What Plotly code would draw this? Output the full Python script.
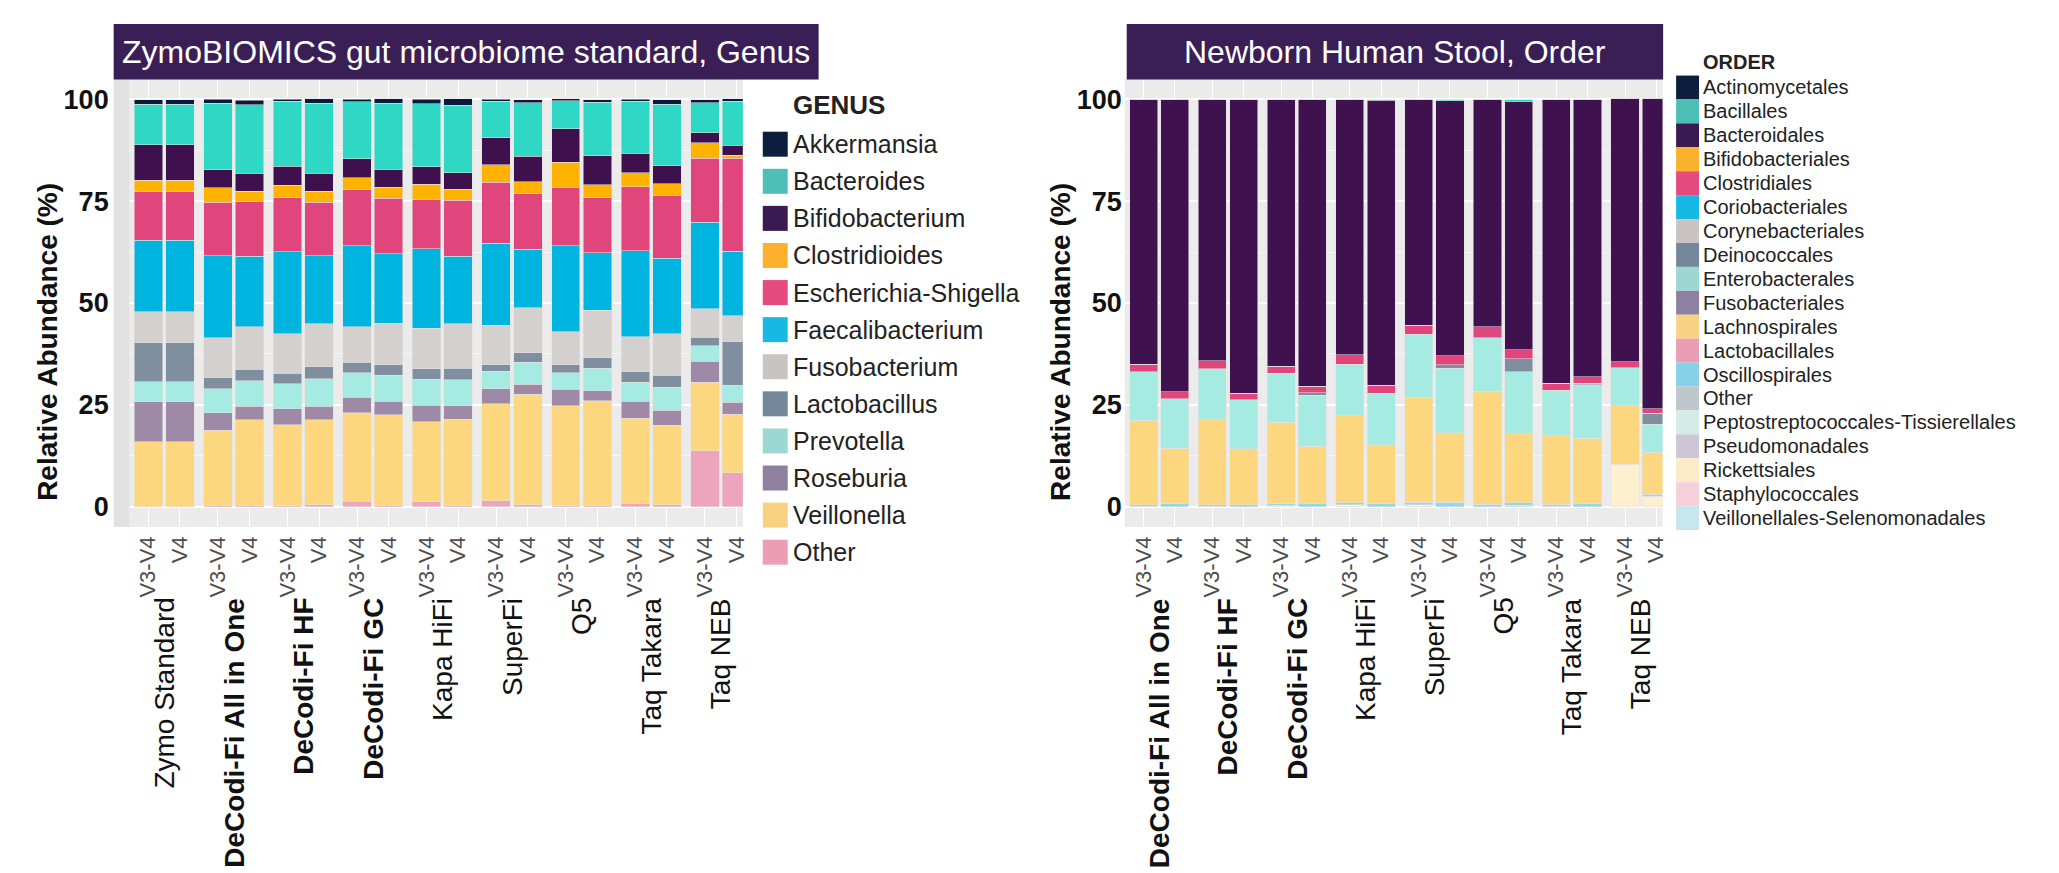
import plotly.graph_objects as go

W, H = 2059, 873

# ---------------- data ----------------
groups_left = ["Zymo Standard", "DeCodi-Fi All in One", "DeCodi-Fi HF", "DeCodi-Fi GC",
               "Kapa HiFi", "SuperFi", "Q5", "Taq Takara", "Taq NEB"]
groups_right = ["DeCodi-Fi All in One", "DeCodi-Fi HF", "DeCodi-Fi GC",
                "Kapa HiFi", "SuperFi", "Q5", "Taq Takara", "Taq NEB"]
bold_groups = ["DeCodi-Fi All in One", "DeCodi-Fi HF", "DeCodi-Fi GC"]
regions = ["V3-V4", "V4"]
y_ticks = [0, 25, 50, 75, 100]

title_left = "ZymoBIOMICS gut microbiome standard, Genus"
title_right = "Newborn Human Stool, Order"
y_title = "Relative Abundance (%)"

# Genus (left) -- legend order = stack order from top to bottom
genus_names = ["Akkermansia", "Bacteroides", "Bifidobacterium", "Clostridioides",
               "Escherichia-Shigella", "Faecalibacterium", "Fusobacterium", "Lactobacillus",
               "Prevotella", "Roseburia", "Veillonella", "Other"]
genus_bar_colors = ["#0A1A3C", "#2ED8C4", "#3E104E", "#FFB300", "#E0457B", "#00B4E0",
                    "#D4D0CE", "#808F9F", "#A6EBE1", "#9E8AA6", "#FDD780", "#EDA4BD"]
genus_key_colors = ["#0B1E3E", "#4DBFB4", "#3A1A50", "#FBB12D", "#E54B7E", "#15B9E3",
                    "#C9C4C1", "#75879A", "#9CD7D3", "#8F809F", "#F8D282", "#EB9DB5"]
# bars: Zymo V3-V4, Zymo V4, AIO V3-V4, AIO V4, HF..., GC..., Kapa..., SuperFi..., Q5..., Takara..., NEB...
akkermansia     = [1.1, 1.1, 1.0, 1.1, 0.5, 1.0, 0.65, 1.0, 1.1, 1.5, 0.5, 0.7, 0.4, 0.65, 0.5, 1.1, 0.7, 0.7]
bacteroides     = [9.9, 9.9, 16.3, 16.8, 15.9, 17.2, 14.0, 16.3, 15.4, 16.6, 8.9, 13.2, 6.9, 13.2, 12.7, 15.1, 7.4, 10.8]
bifidobacterium = [8.7, 8.7, 4.4, 4.4, 4.7, 4.4, 4.6, 4.4, 4.4, 4.1, 6.7, 6.2, 8.2, 7.1, 4.8, 4.4, 2.5, 2.4]
clostridioides  = [2.7, 2.7, 3.5, 2.6, 3.1, 2.7, 3.0, 2.7, 3.6, 2.7, 4.2, 3.0, 6.2, 3.2, 3.4, 2.9, 3.8, 0.7]
escherichia     = [12.1, 12.1, 13.2, 13.4, 13.2, 13.2, 13.7, 13.6, 12.2, 13.7, 15.0, 13.6, 14.4, 13.5, 15.8, 15.4, 15.7, 22.9]
faecalibacterium = [17.6, 17.6, 20.1, 17.3, 20.1, 16.7, 19.9, 17.1, 19.5, 16.6, 20.2, 14.4, 21.0, 14.1, 21.1, 18.5, 21.2, 15.8]
fusobacterium   = [7.5, 7.5, 9.9, 10.5, 9.7, 10.6, 8.8, 10.1, 10.0, 10.9, 9.6, 11.0, 8.2, 11.7, 8.6, 10.3, 7.0, 6.4]
lactobacillus   = [9.6, 9.6, 2.6, 2.8, 2.6, 2.9, 2.5, 2.7, 2.5, 2.8, 1.6, 2.3, 1.9, 2.5, 2.5, 2.9, 2.1, 10.7]
prevotella      = [5.0, 5.0, 6.0, 6.3, 6.2, 6.8, 6.1, 6.3, 6.4, 6.4, 4.4, 5.4, 4.1, 5.5, 4.7, 5.6, 3.8, 4.2]
roseburia       = [9.8, 9.8, 4.2, 3.3, 3.9, 3.3, 3.8, 3.3, 4.0, 3.3, 3.6, 2.5, 4.0, 2.5, 4.2, 3.7, 5.1, 2.9]
veillonella     = [15.9, 15.9, 18.5, 21.0, 19.9, 20.8, 21.7, 22.3, 19.7, 21.2, 23.9, 27.1, 24.6, 25.7, 21.0, 19.5, 16.9, 14.4]
genus_other     = [0.0, 0.0, 0.3, 0.3, 0.2, 0.5, 1.3, 0.3, 1.2, 0.3, 1.4, 0.5, 0.2, 0.3, 0.7, 0.5, 13.7, 8.3]
genus_values = [akkermansia, bacteroides, bifidobacterium, clostridioides, escherichia,
                faecalibacterium, fusobacterium, lactobacillus, prevotella, roseburia,
                veillonella, genus_other]

# Order (right)
order_names = ["Actinomycetales", "Bacillales", "Bacteroidales", "Bifidobacteriales",
               "Clostridiales", "Coriobacteriales", "Corynebacteriales", "Deinococcales",
               "Enterobacterales", "Fusobacteriales", "Lachnospirales", "Lactobacillales",
               "Oscillospirales", "Other", "Peptostreptococcales-Tissierellales",
               "Pseudomonadales", "Rickettsiales", "Staphylococcales",
               "Veillonellales-Selenomonadales"]
order_bar_colors = ["#0B1E3E", "#2ED8C4", "#3F114F", "#FBB12D", "#E0457B", "#15B9E3",
                    "#C9C4C1", "#808F9F", "#A6EBE1", "#8F809F", "#FDD780", "#EB9DB5",
                    "#8FD8EE", "#BFC6CC", "#D3ECE6", "#CCC6D6", "#FEF0CE", "#F5D0DB",
                    "#C8E6EE"]
order_key_colors = ["#0B1E3E", "#4DBFB4", "#3A1A50", "#FBB12D", "#E54B7E", "#15B9E3",
                    "#C9C4C1", "#75879A", "#9CD7D3", "#8F809F", "#F8D282", "#EB9DB5",
                    "#87D2EA", "#BFC6CC", "#D3ECE6", "#CCC6D6", "#FBEBC6", "#F5D0DB",
                    "#C8E6EE"]
# bars: AIO V3-V4, AIO V4, HF, HF, GC, GC, Kapa, Kapa, SuperFi, SuperFi, Q5, Q5, Takara, Takara, NEB, NEB
actinomycetales   = [0, 0, 0, 0, 0, 0, 0, 0, 0, 0, 0, 0, 0, 0, 0, 0]
bacillales        = [0, 0.15, 0, 0, 0, 0.15, 0, 0.15, 0, 0.2, 0, 0.4, 0, 0.15, 0, 0]
bacteroidales     = [65.0, 71.7, 64.2, 72.0, 65.4, 70.3, 62.7, 70.0, 55.5, 62.7, 55.8, 61.0, 69.7, 68.0, 64.5, 76.1]
bifidobacteriales = [0, 0, 0, 0, 0, 0, 0, 0, 0, 0, 0, 0, 0, 0, 0, 0]
clostridiales     = [1.9, 1.6, 1.9, 1.7, 1.7, 1.6, 2.3, 1.9, 2.2, 2.1, 2.7, 2.2, 1.7, 1.5, 1.5, 1.1]
coriobacteriales  = [0, 0, 0, 0, 0, 0, 0, 0, 0, 0, 0, 0, 0, 0, 0, 0]
corynebacteriales = [0, 0, 0, 0, 0, 0, 0, 0, 0, 0, 0, 0, 0, 0, 0, 0]
deinococcales     = [0, 0, 0, 0, 0, 0.6, 0, 0, 0, 0.9, 0, 3.2, 0, 0.4, 0, 2.7]
enterobacterales  = [11.9, 12.2, 12.6, 12.0, 12.1, 12.5, 12.7, 12.7, 15.4, 15.8, 13.2, 15.2, 11.2, 13.2, 9.3, 6.9]
fusobacteriales   = [0, 0, 0, 0, 0, 0, 0, 0, 0, 0, 0, 0, 0, 0, 0, 0]
lachnospirales    = [20.7, 13.7, 20.8, 13.7, 19.9, 14.2, 21.3, 14.5, 25.8, 17.1, 27.7, 17.0, 16.8, 16.1, 14.4, 10.2]
lactobacillales   = [0, 0, 0, 0, 0, 0, 0, 0, 0, 0, 0, 0, 0, 0, 0, 0]
oscillospirales   = [0.4, 0.65, 0.4, 0.5, 0.4, 0.65, 0.5, 0.7, 0.6, 1.1, 0.6, 0.65, 0.4, 0.65, 0, 0.6]
order_other       = [0, 0, 0, 0, 0, 0, 0, 0, 0, 0, 0, 0, 0, 0, 0, 0]
peptostreptococcales = [0, 0, 0, 0, 0, 0, 0, 0, 0, 0, 0, 0, 0, 0, 0, 0]
pseudomonadales   = [0, 0, 0, 0, 0, 0, 0, 0, 0, 0, 0, 0, 0, 0, 0, 0]
rickettsiales     = [0.1, 0, 0.1, 0, 0.4, 0, 0.5, 0, 0.5, 0, 0, 0, 0.15, 0, 10.4, 2.5]
staphylococcales  = [0, 0, 0, 0, 0, 0, 0, 0, 0, 0, 0, 0, 0, 0, 0, 0]
veillonellales    = [0, 0, 0, 0, 0, 0, 0, 0, 0, 0, 0, 0.3, 0, 0, 0, 0]
order_values = [actinomycetales, bacillales, bacteroidales, bifidobacteriales, clostridiales,
                coriobacteriales, corynebacteriales, deinococcales, enterobacterales,
                fusobacteriales, lachnospirales, lactobacillales, oscillospirales, order_other,
                peptostreptococcales, pseudomonadales, rickettsiales, staphylococcales,
                veillonellales]

# ---------------- layout helpers ----------------
FONT = "Liberation Sans, Arial, sans-serif"
PITCH = 2.2  # facet panel width in bar units


def px(x):
    return x / W


def py(y):
    return 1 - y / H


def positions(groups):
    xs, labels = [], []
    for k, _ in enumerate(groups):
        for j, r in enumerate(regions):
            xs.append(k * PITCH + j)
            labels.append(r)
    return xs, labels


xl, tl = positions(groups_left)
xr, tr = positions(groups_right)

fig = go.Figure()
bar_line = dict(width=0.6, color="rgba(225,225,225,0.9)")

for name, color, vals in reversed(list(zip(genus_names, genus_bar_colors, genus_values))):
    fig.add_trace(go.Bar(x=xl, y=vals, name=name, marker=dict(color=color, line=bar_line),
                         width=0.9, xaxis="x", yaxis="y", showlegend=False))
for name, color, vals in reversed(list(zip(order_names, order_bar_colors, order_values))):
    fig.add_trace(go.Bar(x=xr, y=vals, name=name, marker=dict(color=color, line=bar_line),
                         width=0.9, xaxis="x2", yaxis="y2", showlegend=False))

ydom = [py(527), py(79)]
left_px = (114, 745)
right_px = (1128.1, 1667.4)
unit_l = 31.08
xmin_l = -0.6 - (129.4 - left_px[0]) / unit_l

common_x = dict(tickangle=-90, tickfont=dict(size=22, color="#4D4D4D", family=FONT),
                showgrid=True, gridcolor="white", gridwidth=1.3, zeroline=False,
                showline=False, ticks="", ticklabelstandoff=4)
common_y = dict(range=[-5, 105], tickvals=y_ticks, ticktext=[str(v) for v in y_ticks],
                tickfont=dict(size=27, color="#111111", family=FONT, weight="bold"),
                showgrid=True, gridcolor="white", gridwidth=1.5, zeroline=False,
                showline=False, ticks="",
                minor=dict(tickvals=[12.5, 37.5, 62.5, 87.5], showgrid=True,
                           gridcolor="rgba(255,255,255,0.55)", gridwidth=0.8))

fig.update_layout(
    width=W, height=H, margin=dict(l=0, r=0, t=0, b=0),
    paper_bgcolor="white", plot_bgcolor="#EBEBEB",
    barmode="stack", showlegend=False, font=dict(family=FONT),
    xaxis=dict(domain=[px(left_px[0]), px(left_px[1])], range=[xmin_l, len(groups_left) * PITCH - 1.0],
               tickvals=xl, ticktext=tl, anchor="y", **common_x),
    yaxis=dict(domain=ydom, anchor="x", ticklabelstandoff=4, **common_y),
    xaxis2=dict(domain=[px(right_px[0]), px(right_px[1])], range=[-0.6, len(groups_right) * PITCH - 1.0],
                tickvals=xr, ticktext=tr, anchor="y2", **common_x),
    yaxis2=dict(domain=ydom, anchor="x2", ticklabelstandoff=2, **common_y),
)

shapes = []
annotations = []

# darker strip at left of the left panel
shapes.append(dict(type="rect", xref="x", yref="y", x0=xmin_l, x1=-0.6, y0=-5, y1=105,
                   fillcolor="#E2E2E2", line=dict(width=0), layer="above"))

# title banners
for (x0, x1), text in [((114, 821), title_left), ((1130, 1668), title_right)]:
    shapes.append(dict(type="rect", xref="paper", yref="paper", x0=px(x0), x1=px(x1),
                       y0=py(79.5), y1=py(24), fillcolor="#3A1E56", line=dict(width=0)))
    annotations.append(dict(xref="paper", yref="paper", x=px((x0 + x1) / 2), y=py(52),
                            text=text, showarrow=False, xanchor="center", yanchor="middle",
                            font=dict(size=32, color="white", family=FONT)))

# group labels under the bars
for groups, xref in [(groups_left, "x"), (groups_right, "x2")]:
    for k, g in enumerate(groups):
        label = f"<b>{g}</b>" if g in bold_groups else g
        annotations.append(dict(xref=xref, yref="paper", x=k * PITCH + 0.5, y=py(596),
                                text=label, showarrow=False, textangle=-90,
                                xanchor="center", yanchor="top",
                                font=dict(size=28, color="#111111", family=FONT)))

# y-axis titles
for xc in (48, 1064):
    annotations.append(dict(xref="paper", yref="paper", x=px(xc), y=py(342),
                            text=f"<b>{y_title}</b>", showarrow=False, textangle=-90,
                            xanchor="center", yanchor="middle",
                            font=dict(size=28, color="#111111", family=FONT)))

# legends (drawn as key squares + labels)
def add_legend(title, names, colors, key_x0, key_x1, y_first, pitch, key_h, text_x, fs, title_y, title_fs):
    annotations.append(dict(xref="paper", yref="paper", x=px(text_x - 2), y=py(title_y),
                            text=f"<b>{title}</b>", showarrow=False, xanchor="left",
                            yanchor="middle", font=dict(size=title_fs, color="#222222", family=FONT)))
    for i, (n, c) in enumerate(zip(names, colors)):
        yc = y_first + i * pitch
        shapes.append(dict(type="rect", xref="paper", yref="paper", x0=px(key_x0), x1=px(key_x1),
                           y0=py(yc + key_h / 2), y1=py(yc - key_h / 2), fillcolor=c,
                           line=dict(width=0)))
        annotations.append(dict(xref="paper", yref="paper", x=px(text_x - 2), y=py(yc),
                                text=n, showarrow=False, xanchor="left", yanchor="middle",
                                font=dict(size=fs, color="#222222", family=FONT)))


add_legend("GENUS", genus_names, genus_key_colors, 765, 790, 144.2, 37.09, 25, 795, 25, 105, 26)
add_legend("ORDER", order_names, order_key_colors, 1681, 1704, 87.5, 23.92, 23.9, 1708, 20, 62.5, 20)

fig.update_layout(shapes=shapes, annotations=annotations)

fig.write_html("out.html", config={"displayModeBar": False},
               post_script="document.body.style.margin='0';document.body.style.overflow='hidden';")
